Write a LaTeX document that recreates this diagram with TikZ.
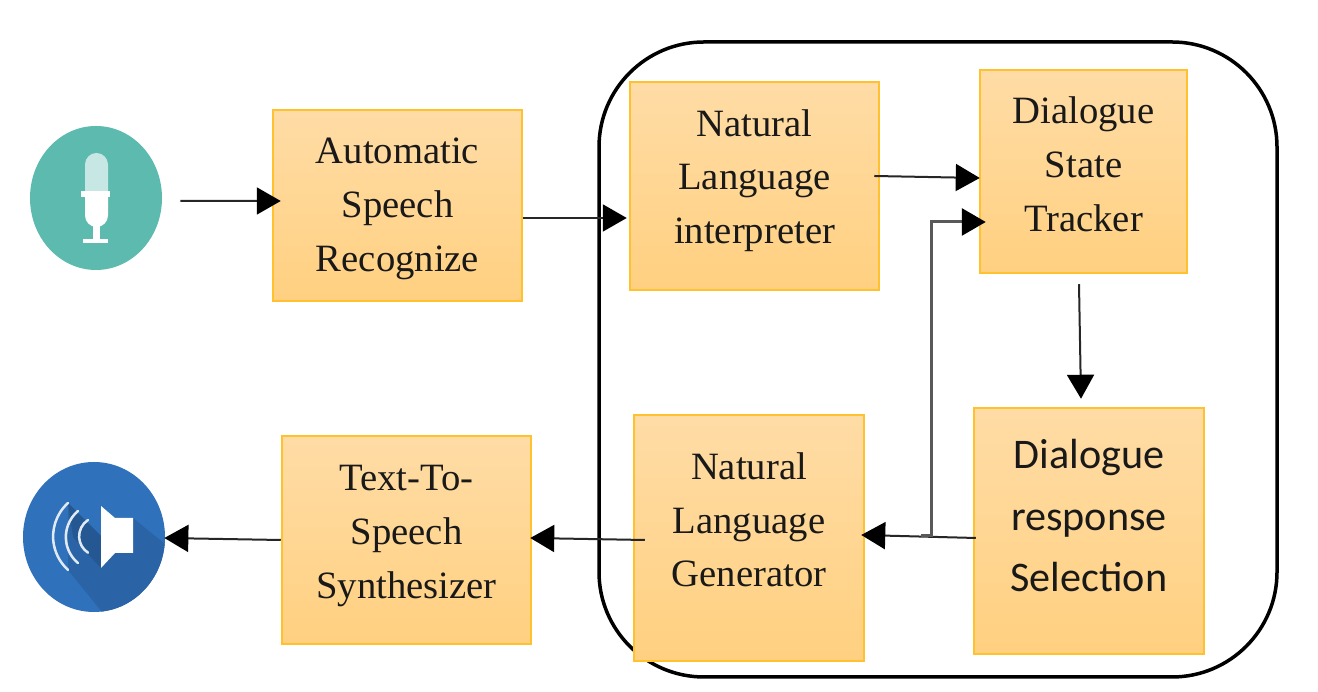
\documentclass[tikz,border=0pt]{standalone}
\usepackage{fontspec}
\setmainfont{Liberation Serif}
\newfontfamily\calibrifont{Carlito}
\usetikzlibrary{positioning,calc,arrows.meta,shapes.geometric}

\definecolor{boxedge}{HTML}{FFC22E}
\definecolor{boxtop}{HTML}{FFDCA6}
\definecolor{boxbottom}{HTML}{FFD080}
\definecolor{micgreen}{HTML}{5DBAAF}
\definecolor{spkblue}{HTML}{2F71BA}
\definecolor{spkshade}{HTML}{2B64A6}
\definecolor{spkdark}{HTML}{255892}

\begin{document}
\begin{tikzpicture}[
    module/.style={draw=boxedge, line width=0.05cm, top color=boxtop, bottom color=boxbottom,
        inner sep=0pt, align=center, text=black!90, font=\fontsize{22}{30.6}\selectfont},
    widemodule/.style={module, minimum width=4.98cm, minimum height=4.16cm},
    tallmodule/.style={module, minimum width=4.6cm, minimum height=4.92cm},
    flow/.style={draw=black!85, line width=0.04cm, -{Triangle[length=0.48cm,width=0.54cm,color=black]}},
    iconline/.style={draw=white!85!spkblue, line width=0.05cm, line cap=round}
]
\useasboundingbox (0,0) rectangle (26.36,13.84);

% Define the surrounding frame
\node[draw, line width=0.07cm, rounded corners=2.1cm, minimum width=13.56cm, minimum height=12.7cm] (frame) at (18.76,6.65) {};

% Define node positions
\node[widemodule, minimum height=3.82cm, text height=2.8cm] (asr) at (7.95,9.73) {Automatic\\Speech\\Recognize};
\node[widemodule, text depth=0.38cm] (nli) at (15.09,10.12) {Natural\\Language\\interpreter};
\node[module, minimum width=4.14cm, minimum height=4.06cm, text depth=0.3cm] (dst) at (21.67,10.41) {Dialogue\\State\\Tracker};
\node[tallmodule, text depth=0.62cm, font=\calibrifont\fontsize{24}{35}\selectfont] (drs) at (21.78,3.22) {Dialogue\\response\\Selection};
\node[tallmodule, text depth=0.73cm] (nlg) at (14.98,3.08) {Natural\\Language\\Generator};
\node[widemodule, text depth=0.32cm] (tts) at (8.13,3.04) {Text-To-\\Speech\\Synthesizer};

% Microphone icon
\node[ellipse, fill=micgreen, minimum width=2.64cm, minimum height=2.88cm, inner sep=0pt] (mic) at (1.92,9.88) {};
\fill[white!65!micgreen] (1.7,9.96) -- (1.7,10.55) arc (180:0:0.23) -- (2.16,9.96) -- cycle;
\fill[white] (1.7,9.96) -- (2.16,9.96) -- (2.16,9.53) arc (0:-180:0.23) -- cycle;
\fill[white] (1.62,9.9) rectangle (2.2,10.02);
\fill[white] (1.86,9.34) rectangle (2.0,9.02);
\fill[white] (1.66,9.06) rectangle (2.16,8.98);

% Speaker icon
\node[ellipse, fill=spkblue, minimum width=2.84cm, minimum height=3cm, inner sep=0pt] (spk) at (1.88,3.1) {};
\begin{scope}
\clip (1.88,3.1) ellipse (1.42 and 1.5);
\fill[spkshade] (1.36,3.78) -- (2.0,3.1) -- (2.66,3.48) -- (3.4,2.88) -- (3.4,1.4) -- (2.2,1.4) -- (1.36,2.44) -- cycle;
\fill[spkdark] (1.36,3.78) -- (2.02,3.12) -- (2.02,2.48) -- (1.9,2.6) -- (1.46,3.1) -- cycle;
\end{scope}
\fill[white] (2.02,3.72) -- (2.3,3.48) -- (2.66,3.48) -- (2.66,2.78) -- (2.3,2.78) -- (2.02,2.48) -- cycle;
\draw[iconline] (1.36,3.78) arc (132:228:0.9);
\draw[iconline] (1.56,3.62) arc (130:230:0.68);
\draw[iconline] (1.76,3.44) arc (123:237:0.39);

% Draw arrows between modules
\draw[flow] ([xshift=0.36cm,yshift=-0.06cm]mic.east) -- ([xshift=0.18cm,yshift=0.09cm]asr.west);
\draw[flow] ([yshift=-0.25cm]asr.east) -- ([xshift=-0.04cm,yshift=-0.64cm]nli.west);
\draw[flow] ([xshift=-0.12cm,yshift=0.2cm]nli.east) -- ([xshift=0.02cm,yshift=-0.13cm]dst.west);
\draw[flow] ([xshift=-0.09cm,yshift=-0.2cm]dst.south) -- ([xshift=-0.16cm,yshift=0.16cm]drs.north);
\draw[flow] ([xshift=0.06cm,yshift=-0.14cm]drs.west) -- ([xshift=-0.08cm,yshift=0.06cm]nlg.east);
\draw[flow] ([xshift=0.24cm,yshift=-0.04cm]nlg.west) -- ([xshift=-0.04cm,yshift=0.04cm]tts.east);
\draw[flow] (tts.west) -- ([xshift=-0.02cm,yshift=-0.02cm]spk.east);

% Feedback branch
\coordinate (fork) at (18.42,3.13);
\draw[flow, draw=black!65, line width=0.06cm] (fork) -- ++(0.2,0) |- ([xshift=0.14cm,yshift=-1.01cm]dst.west);

\end{tikzpicture}
\end{document}
